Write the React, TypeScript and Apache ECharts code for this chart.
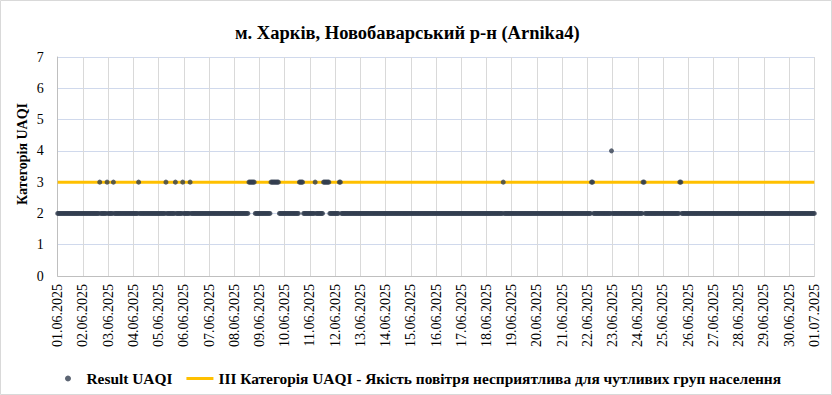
import React, { useEffect, useRef } from "react";
import * as echarts from "echarts";

const chartTitle = "м. Харків, Новобаварський р-н (Arnika4)";
const yAxisTitle = "Категорія UAQI";
const resultName = "Result UAQI";
const thresholdName =
  "III Категорія UAQI - Якість повітря несприятлива для чутливих груп населення";

const xTickLabels = [
  "01.06.2025", "02.06.2025", "03.06.2025", "04.06.2025", "05.06.2025",
  "06.06.2025", "07.06.2025", "08.06.2025", "09.06.2025", "10.06.2025",
  "11.06.2025", "12.06.2025", "13.06.2025", "14.06.2025", "15.06.2025",
  "16.06.2025", "17.06.2025", "18.06.2025", "19.06.2025", "20.06.2025",
  "21.06.2025", "22.06.2025", "23.06.2025", "24.06.2025", "25.06.2025",
  "26.06.2025", "27.06.2025", "28.06.2025", "29.06.2025", "30.06.2025",
  "01.07.2025",
];

const yMin = 0;
const yMax = 7;
const yStep = 1;

// Hourly UAQI category readings, one row per day (hours 00..23, in groups of 6)
const hourlyRows = [
  "222222 222222 222222 222222", // 01.06
  "222222 222222 222232 222223", // 02.06
  "222223 222222 222222 222222", // 03.06
  "222223 222222 222222 222222", // 04.06
  "222222 232222 222232 222223", // 05.06
  "222222 322222 222222 222222", // 06.06
  "222222 222222 222222 222222", // 07.06
  "222222 222222 223333 332222", // 08.06
  "222222 222223 333333 322222", // 09.06
  "222222 222222 223333 222222", // 10.06
  "222223 222222 233333 322222", // 11.06
  "222233 222222 222222 222222", // 12.06
  "222222 222222 222222 222222", // 13.06
  "222222 222222 222222 222222", // 14.06
  "222222 222222 222222 222222", // 15.06
  "222222 222222 222222 222222", // 16.06
  "222222 222222 222222 222222", // 17.06
  "222222 222222 222232 222222", // 18.06
  "222222 222222 222222 222222", // 19.06
  "222222 222222 222222 222222", // 20.06
  "222222 222222 222222 222222", // 21.06
  "222233 222222 222222 222224", // 22.06
  "222222 222222 222222 222222", // 23.06
  "222223 322222 222222 222222", // 24.06
  "222222 222222 222233 222222", // 25.06
  "222222 222222 222222 222222", // 26.06
  "222222 222222 222222 222222", // 27.06
  "222222 222222 222222 222222", // 28.06
  "222222 222222 222222 222222", // 29.06
  "222222 222222 222222 222222", // 30.06
];
const finalReading = 2; // 01.07.2025 00:00

const thresholdValue = 3;

const serif = "Liberation Serif, Times New Roman, serif";

export default function App() {
  const ref = useRef<HTMLDivElement>(null);

  useEffect(() => {
    if (!ref.current) return;
    const chart = echarts.init(ref.current, undefined, { renderer: "svg" });

    const points: number[][] = [];
    hourlyRows.forEach((row, d) => {
      const digits = row.replace(/\s/g, "");
      for (let h = 0; h < digits.length; h++) {
        points.push([d + h / 24, Number(digits[h])]);
      }
    });
    points.push([hourlyRows.length, finalReading]);

    const xMax = xTickLabels.length - 1;
    const thresholdLine = [
      [0, thresholdValue],
      [xMax, thresholdValue],
    ];

    chart.setOption({
      animation: false,
      title: {
        text: chartTitle,
        left: 230,
        top: 18,
        textStyle: { fontFamily: serif, fontWeight: "bold", fontSize: 18.5, color: "#000" },
      },
      grid: { left: 57.7, right: 17.7, top: 57, bottom: 119, containLabel: false },
      xAxis: {
        type: "value",
        min: 0,
        max: xMax,
        interval: 1,
        axisLine: { show: true, lineStyle: { color: "#BFBFBF", width: 1 } },
        axisTick: { show: false },
        splitLine: { show: true, lineStyle: { color: "#D9D9D9", width: 1 } },
        axisLabel: {
          rotate: 90,
          margin: 8,
          fontFamily: serif,
          fontSize: 14,
          color: "#000",
          formatter: (v: number) => xTickLabels[Math.round(v)] ?? "",
        },
      },
      yAxis: {
        type: "value",
        min: yMin,
        max: yMax,
        interval: yStep,
        axisLine: { show: true, lineStyle: { color: "#BFBFBF", width: 1 } },
        axisTick: { show: false },
        splitLine: { show: true, lineStyle: { color: "#D0D9EC", width: 1 } },
        axisLabel: { margin: 14, fontFamily: serif, fontSize: 14, color: "#000" },
      },
      legend: {
        data: [
          { name: resultName, icon: "circle" },
          { name: thresholdName, icon: "path://M0,0H27V3H0Z" },
        ],
        left: 60,
        top: 366,
        itemWidth: 27,
        itemHeight: 6,
        itemGap: 14,
        textStyle: { fontFamily: serif, fontWeight: "bold", fontSize: 15.4, color: "#000" },
      },
      series: [
        {
          name: thresholdName,
          type: "line",
          data: thresholdLine,
          symbol: "none",
          lineStyle: { color: "#FFC000", width: 3 },
          itemStyle: { color: "#FFC000" },
          z: 2,
        },
        {
          name: resultName,
          type: "scatter",
          data: points,
          symbol: "circle",
          symbolSize: 5,
          itemStyle: { color: "#333F50" },
          z: 3,
        },
      ],
      graphic: [
        {
          type: "rect",
          shape: { x: 0.5, y: 0.5, width: 831, height: 394 },
          style: { fill: "none", stroke: "#D9D9D9", lineWidth: 1 },
          silent: true,
        },
        {
          type: "text",
          x: 22,
          y: 154,
          rotation: Math.PI / 2,
          style: {
            text: yAxisTitle,
            fontFamily: serif,
            fontWeight: "bold",
            fontSize: 14,
            fill: "#000",
            align: "center",
            verticalAlign: "middle",
          },
        },
      ],
    });

    return () => chart.dispose();
  }, []);

  return (
    <div style={{ position: "fixed", left: 0, top: 0, width: 832, height: 395, background: "#fff" }}>
      <div ref={ref} style={{ width: 832, height: 395 }} />
    </div>
  );
}
